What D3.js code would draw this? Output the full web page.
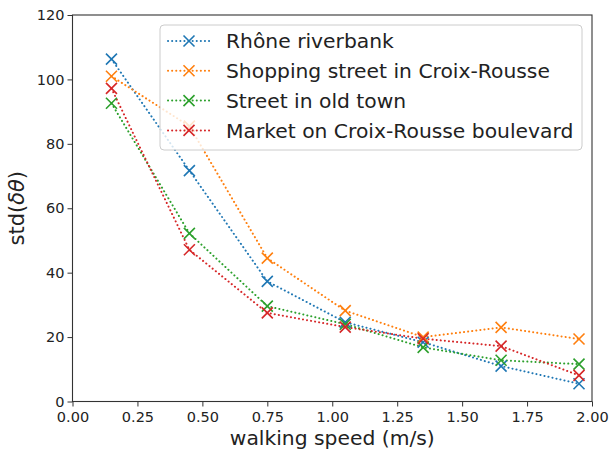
<!DOCTYPE html>
<html lang="en">
<head>
  <meta charset="utf-8">
  <title>std(δθ) vs walking speed</title>
  <script src="https://d3js.org/d3.v7.min.js"></script>
  <style>
    body { margin: 0; background: #fff; }
    text { font-family: "DejaVu Sans", sans-serif; fill: #222; }
  </style>
</head>
<body>
  <svg id="chart" width="610" height="454"></svg>

  <script>
    // data
    const speeds = [0.15, 0.45, 0.75, 1.05, 1.35, 1.65, 1.95];
    const seriesNames = [
      "Rhône riverbank",
      "Shopping street in Croix-Rousse",
      "Street in old town",
      "Market on Croix-Rousse boulevard"
    ];
    const rhone    = [106.3, 71.7, 37.3, 24.6, 18.4, 11.0, 5.5];
    const shopping = [101.0, 85.5, 44.5, 28.2, 20.0, 23.0, 19.4];
    const oldTown  = [92.6, 52.2, 29.6, 24.0, 16.8, 12.8, 11.6];
    const market   = [97.2, 47.1, 27.5, 23.1, 19.5, 17.2, 8.1];
    const xTicks = [0, 0.25, 0.5, 0.75, 1.0, 1.25, 1.5, 1.75, 2.0];
    const yTicks = [0, 20, 40, 60, 80, 100, 120];

    const colors = ["#1f77b4", "#ff7f0e", "#2ca02c", "#d62728"];
    const allSeries = [rhone, shopping, oldTown, market];

    const svg = d3.select("#chart");
    const pl = 72.5, pr = 592, pt = 15, pb = 401.5;

    const x = d3.scaleLinear().domain([0, 2]).range([pl, pr]);
    const y = d3.scaleLinear().domain([0, 120]).range([pb, pt]);

    svg.append("clipPath").attr("id", "plotClip")
      .append("rect")
      .attr("x", pl).attr("y", pt)
      .attr("width", pr - pl).attr("height", pb - pt);

    // axes
    const xAxis = svg.append("g")
      .attr("transform", `translate(0,${pb})`)
      .call(d3.axisBottom(x).tickValues(xTicks).tickFormat(d3.format(".2f")).tickSizeOuter(0).tickSize(5));
    const yAxis = svg.append("g")
      .attr("transform", `translate(${pl},0)`)
      .call(d3.axisLeft(y).tickValues(yTicks).tickSizeOuter(0).tickSize(5));

    [xAxis, yAxis].forEach(a => {
      a.select(".domain").remove();
      a.selectAll("line").attr("stroke", "#333").attr("stroke-width", 1);
      a.selectAll("text").style("font-size", "14.5px").attr("fill", "#222");
    });
    xAxis.selectAll("text").attr("dy", "0.85em");

    // frame
    svg.append("rect")
      .attr("x", pl).attr("y", pt)
      .attr("width", pr - pl).attr("height", pb - pt)
      .attr("fill", "none").attr("stroke", "#333").attr("stroke-width", 1.1);

    // axis labels
    svg.append("text")
      .attr("x", (pl + pr) / 2).attr("y", 445)
      .attr("text-anchor", "middle")
      .style("font-size", "20.3px")
      .text("walking speed (m/s)");

    const yl = svg.append("text")
      .attr("transform", `translate(24,${(pt + pb) / 2}) rotate(-90)`)
      .attr("text-anchor", "middle")
      .style("font-size", "21px");
    yl.append("tspan").text("std(");
    yl.append("tspan").attr("font-style", "italic").text("δθ");
    yl.append("tspan").text(")");

    // series
    const plot = svg.append("g").attr("clip-path", "url(#plotClip)");
    const line = d3.line().x((d, i) => x(speeds[i])).y(d => y(d));

    function xMarker(g, cx, cy, color, r) {
      g.append("path")
        .attr("d", `M${cx - r},${cy - r}L${cx + r},${cy + r}M${cx - r},${cy + r}L${cx + r},${cy - r}`)
        .attr("stroke", color).attr("stroke-width", 1.6).attr("fill", "none");
    }

    allSeries.forEach((vals, k) => {
      plot.append("path")
        .datum(vals)
        .attr("d", line)
        .attr("fill", "none")
        .attr("stroke", colors[k])
        .attr("stroke-width", 2)
        .attr("stroke-linecap", "round")
        .attr("stroke-dasharray", "0.1,4");
      vals.forEach((v, i) => xMarker(svg, x(speeds[i]), y(v), colors[k], 5.5));
    });

    // legend
    const legend = svg.append("g");
    legend.append("rect")
      .attr("x", 160).attr("y", 25)
      .attr("width", 422).attr("height", 125)
      .attr("rx", 4)
      .attr("fill", "white").attr("fill-opacity", 0.8)
      .attr("stroke", "#ccc").attr("stroke-width", 1);

    seriesNames.forEach((name, k) => {
      const ly = 41 + k * 29.8;
      legend.append("line")
        .attr("x1", 168).attr("x2", 210).attr("y1", ly).attr("y2", ly)
        .attr("stroke", colors[k]).attr("stroke-width", 2)
        .attr("stroke-linecap", "round").attr("stroke-dasharray", "0.1,4");
      xMarker(legend, 189, ly, colors[k], 5.5);
      legend.append("text")
        .attr("x", 226).attr("y", ly)
        .attr("dy", "0.35em")
        .style("font-size", "20.3px")
        .text(name);
    });
  </script>
</body>
</html>
